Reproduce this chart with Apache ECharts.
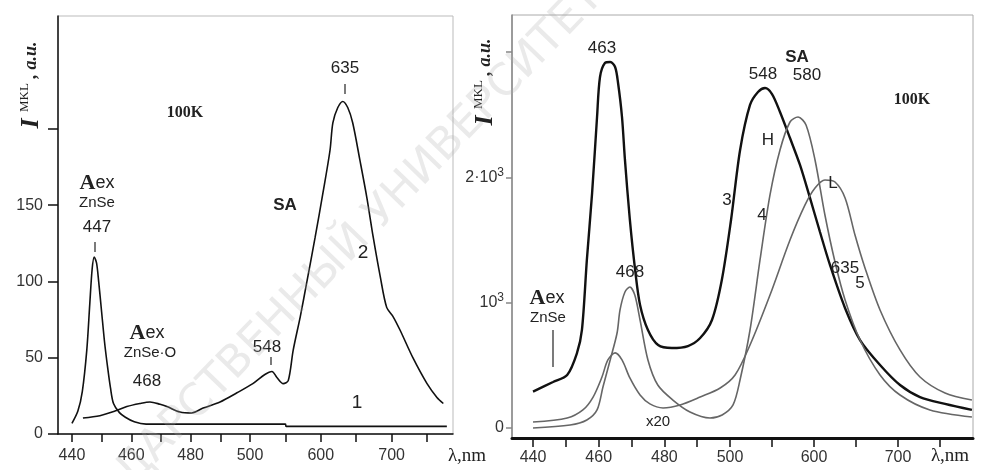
<!DOCTYPE html>
<html>
<head>
<meta charset="utf-8">
<script src="https://cdn.jsdelivr.net/npm/echarts@6/dist/echarts.min.js"></script>
<style>
  html, body { margin: 0; background: #fff; }
  #chart { width: 981px; height: 470px; }
</style>
</head>
<body>
<div id="chart"></div>
<script>
// wavelength axis of the original: 10 nm steps up to 500 nm, 50 nm steps after it
const xTicks = [440, 450, 460, 470, 480, 490, 500, 550, 600, 650, 700, 750]
const xLabels = [440, 460, 480, 500, 600, 700]

const leftYTicks = [0, 50, 100, 150, 200]
const leftYLabels = [0, 50, 100, 150]
const rightYTicks = [0, 1000, 2000, 3000]
const rightYLabels = [0, 1000, 2000]

// left panel, curve 1 (A ex ZnSe 447)
const lam1 = [440, 442, 443.5, 445, 446, 446.8, 447.5, 448.3, 449, 450, 451, 452, 453, 454, 456, 458, 461, 465, 550, 551, 778]
const int1 = [7, 15, 28, 55, 85, 108, 116, 112, 100, 80, 60, 44, 30, 20, 14, 11, 8, 6.5, 6.5, 5, 5]

// left panel, curve 2 (SA 635)
const lam2 = [443.7, 449.4, 454.5, 458.5, 462.9, 466.3, 469.7, 472, 476.4, 480.4, 484.2, 489.9, 495.6, 504, 521, 531, 538, 547, 554, 561, 571, 580, 592, 603, 613, 617, 624, 631, 638, 645, 655, 665, 674, 684, 693, 702, 712, 730, 750, 764, 773]
const int2 = [10.5, 12, 15, 18, 20, 21, 19.5, 18, 14.4, 13.8, 17, 21, 27, 33, 39, 41, 37, 33, 35, 55, 77, 99, 129, 158, 186, 204, 214, 218, 214, 204, 180, 155, 129, 103, 83, 77, 68, 50, 33, 24, 20]

// right panel, curve 3
const lam3 = [440, 446.1, 450.4, 453.4, 454.9, 456.4, 458, 459.5, 460.4, 461.9, 463.5, 465, 465.9, 467.1, 468, 469.5, 471.1, 472.6, 475, 478.1, 482.3, 487.2, 490.9, 494.5, 497.5, 501.2, 512, 523.8, 533.3, 541.7, 550, 559.5, 571.4, 583.3, 595.2, 607.1, 619, 636.9, 654.8, 678.6, 702.4, 726.2, 756, 788]
const int3 = [290, 367, 423, 599, 782, 1341, 1876, 2482, 2801, 2913, 2921, 2881, 2753, 2482, 2139, 1660, 1261, 982, 782, 662, 638, 654, 718, 862, 1181, 1660, 2219, 2578, 2681, 2713, 2665, 2522, 2314, 2099, 1836, 1564, 1301, 958, 702, 503, 343, 247, 192, 144]

// right panel, curve 4 (H, 580)
const lam4 = [440, 451.3, 456.4, 459.5, 461.3, 463.5, 465.6, 466.5, 468, 469.5, 471, 472.6, 475, 478, 482.6, 487.8, 493.9, 497.6, 503.6, 511.9, 523.8, 535.7, 547.6, 559.5, 571.4, 581, 590.5, 601.2, 613, 625, 637, 654.8, 678.6, 702.4, 738, 788]
const int4 = [0, 24, 64, 144, 327, 543, 758, 942, 1085, 1125, 1061, 862, 543, 343, 223, 128, 80, 104, 184, 383, 782, 1341, 1860, 2219, 2442, 2482, 2418, 2139, 1700, 1325, 1022, 702, 423, 263, 144, 88]

// right panel, curve 5 (L)
const lam5 = [440, 450.4, 455.2, 458.3, 461, 462.8, 465, 467.1, 469.5, 472.6, 475.6, 479.6, 484.8, 490.9, 497, 506, 523.8, 547.6, 571.4, 589.3, 601.2, 613, 625, 637, 648.8, 660.7, 678.6, 702.4, 726.2, 756, 788]
const int5 = [48, 80, 144, 247, 407, 543, 599, 543, 399, 263, 192, 160, 184, 247, 319, 423, 662, 1061, 1500, 1780, 1915, 1979, 1963, 1836, 1540, 1277, 942, 623, 407, 279, 223]

const rLeft = 1.193
const rRight = 1.279

function pos(lam, r) {
  return lam <= 500 ? (lam - 440) / 10 : 6 + r * (lam - 500) / 50
}
function unpos(p, r) {
  return p <= 6 ? 440 + p * 10 : 500 + (p - 6) * 50 / r
}
function pairs(xs, ys, r) {
  return xs.map((l, i) => [pos(l, r), ys[i]])
}

const chart = echarts.init(document.getElementById('chart'))

const labelFont = { color: '#333', fontFamily: 'Liberation Sans', fontSize: 16 }

function xAxisFor(gridIndex, r, min, max, width, tickLen, margin) {
  return {
    type: 'value',
    gridIndex: gridIndex,
    min: min,
    max: max,
    axisLine: { onZero: false, lineStyle: { color: '#111', width: width } },
    axisTick: { length: tickLen, lineStyle: { color: '#111', width: 1.5 }, customValues: xTicks.map(v => pos(v, r)) },
    axisLabel: Object.assign({}, labelFont, {
      margin: margin,
      customValues: xLabels.map(v => pos(v, r)),
      formatter: v => String(Math.round(unpos(v, r)))
    }),
    splitLine: { show: false }
  }
}

function txt(x, y, text, extra) {
  return {
    type: 'text', x: x, y: y, z: 10,
    style: Object.assign({
      text: text, fill: '#222', fontFamily: 'Liberation Sans', fontSize: 17,
      align: 'center', verticalAlign: 'middle'
    }, extra || {})
  }
}
function vline(x, y1, y2) {
  return { type: 'line', z: 10, shape: { x1: x, y1: y1, x2: x, y2: y2 }, style: { stroke: '#222', lineWidth: 1.2 } }
}
const aexRich = {
  a: { fontFamily: 'Liberation Serif', fontWeight: 'bold', fontSize: 22, fill: '#222' },
  e: { fontFamily: 'Liberation Sans', fontSize: 18, fill: '#222' }
}
const titleRich = {
  i: { fontFamily: 'Liberation Serif', fontStyle: 'italic', fontWeight: 'bold', fontSize: 26, fill: '#222' },
  m: { fontFamily: 'Liberation Serif', fontSize: 13, fill: '#222', verticalAlign: 'top', padding: [0, 0, 12, 3] },
  a: { fontFamily: 'Liberation Serif', fontStyle: 'italic', fontWeight: 'bold', fontSize: 18, fill: '#222' }
}
const bold = { fontWeight: 'bold' }
const serifBold = { fontFamily: 'Liberation Serif', fontWeight: 'bold', fontSize: 16 }

chart.setOption({
  animation: false,
  grid: [
    { left: 58, top: 16, width: 395, height: 418, show: true, borderColor: '#bbb', borderWidth: 1 },
    { left: 512, top: 15, width: 461, height: 423, show: true, borderColor: '#aaa', borderWidth: 1 }
  ],
  xAxis: [
    xAxisFor(0, rLeft, -0.47, 12.84, 1.5, 8, 14),
    xAxisFor(1, rRight, -0.64, 13.4, 3, 9, 12)
  ],
  yAxis: [
    {
      type: 'value', gridIndex: 0, min: 0, max: 274,
      axisLine: { show: true, onZero: false, lineStyle: { color: '#111', width: 1.5 } },
      axisTick: { show: true, length: 10, lineStyle: { color: '#111', width: 1.5 }, customValues: leftYTicks },
      axisLabel: Object.assign({}, labelFont, { margin: 15, customValues: leftYLabels }),
      splitLine: { show: false }
    },
    {
      type: 'value', gridIndex: 1, min: -80, max: 3296,
      axisLine: { show: true, onZero: false, lineStyle: { color: '#888', width: 1.5 } },
      axisTick: { show: true, length: 6, lineStyle: { color: '#888', width: 1.5 }, customValues: rightYTicks },
      axisLabel: Object.assign({}, labelFont, {
        margin: 8,
        customValues: rightYLabels,
        formatter: v => v === 0 ? '0' : (v === 1000 ? '10{s|3}' : '2·10{s|3}'),
        rich: { s: { fontFamily: 'Liberation Sans', fontSize: 12, color: '#333', verticalAlign: 'top', padding: [0, 0, 10, 0] } }
      }),
      splitLine: { show: false }
    }
  ],
  series: [
    { type: 'line', xAxisIndex: 0, yAxisIndex: 0, data: pairs(lam1, int1, rLeft), showSymbol: false, smooth: 0.3, lineStyle: { color: '#111', width: 1.6 } },
    { type: 'line', xAxisIndex: 0, yAxisIndex: 0, data: pairs(lam2, int2, rLeft), showSymbol: false, smooth: 0.3, lineStyle: { color: '#111', width: 1.6 } },
    { type: 'line', xAxisIndex: 1, yAxisIndex: 1, data: pairs(lam3, int3, rRight), showSymbol: false, smooth: 0.3, lineStyle: { color: '#111', width: 2.4 } },
    { type: 'line', xAxisIndex: 1, yAxisIndex: 1, data: pairs(lam4, int4, rRight), showSymbol: false, smooth: 0.3, lineStyle: { color: '#666', width: 1.6 } },
    { type: 'line', xAxisIndex: 1, yAxisIndex: 1, data: pairs(lam5, int5, rRight), showSymbol: false, smooth: 0.3, lineStyle: { color: '#666', width: 1.6 } }
  ],
  graphic: [
    // watermark
    {
      type: 'text', x: 360, y: 235, z: 100, rotation: 46 * Math.PI / 180,
      style: {
        text: 'ДАРСТВЕННЫЙ УНИВЕРСИТЕТ', fill: 'rgba(170,170,170,0.25)',
        fontFamily: 'DejaVu Sans', fontSize: 44, align: 'center', verticalAlign: 'middle'
      }
    },
    // left panel
    { type: 'text', x: 31, y: 85, z: 10, rotation: Math.PI / 2,
      style: { text: '{i|I} {m|MKL}{a| , a.u.}', rich: titleRich, align: 'center', verticalAlign: 'middle' } },
    txt(185, 113, '100K', serifBold),
    txt(285, 205, 'SA', bold),
    txt(345, 68, '635'),
    vline(345, 84, 94),
    txt(267, 347, '548'),
    vline(271, 357, 365),
    txt(97, 183, '{a|A}{e|ex}', { rich: aexRich }),
    txt(97, 203, 'ZnSe', { fontSize: 15 }),
    txt(97, 227, '447'),
    vline(95, 242, 252),
    txt(147, 333, '{a|A}{e|ex}', { rich: aexRich }),
    txt(150, 353, 'ZnSe·O', { fontSize: 15 }),
    txt(147, 381, '468'),
    txt(363, 253, '2', { fontSize: 19 }),
    txt(357, 403, '1', { fontSize: 19 }),
    txt(467, 456, 'λ,nm', { fontFamily: 'Liberation Serif', fontSize: 19 }),
    // right panel
    { type: 'text', x: 485, y: 82, z: 10, rotation: Math.PI / 2,
      style: { text: '{i|I} {m|MKL}{a| , a.u.}', rich: titleRich, align: 'center', verticalAlign: 'middle' } },
    txt(602, 48, '463'),
    txt(630, 272, '468'),
    txt(763, 74, '548'),
    txt(797, 57, 'SA', bold),
    txt(807, 75, '580'),
    txt(912, 100, '100K', serifBold),
    txt(768, 140, 'H'),
    txt(833, 183, 'L'),
    txt(727, 200, '3'),
    txt(762, 215, '4'),
    txt(845, 268, '635'),
    txt(860, 283, '5'),
    txt(658, 422, 'x20', { fontSize: 15 }),
    txt(547, 298, '{a|A}{e|ex}', { rich: aexRich }),
    txt(548, 318, 'ZnSe', { fontSize: 15 }),
    vline(553, 330, 367),
    txt(950, 456, 'λ,nm', { fontFamily: 'Liberation Serif', fontSize: 19 })
  ]
})
</script>
</body>
</html>
